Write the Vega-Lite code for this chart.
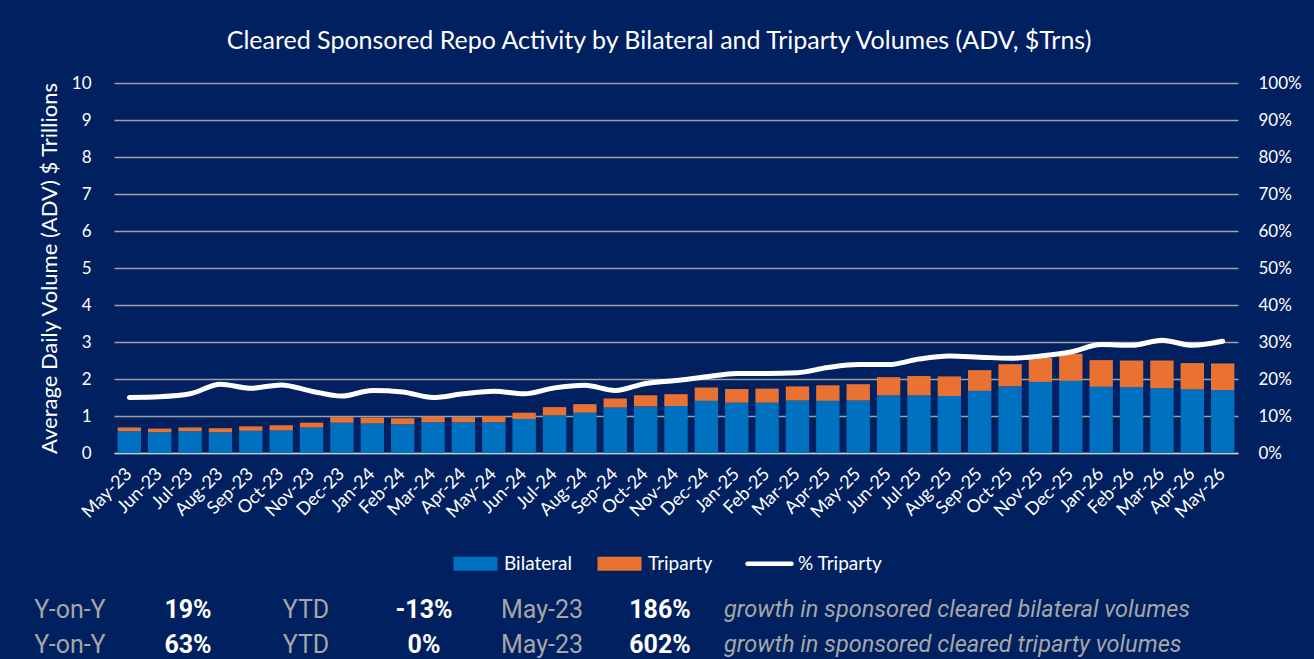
{
  "$schema": "https://vega.github.io/schema/vega-lite/v6.json",
  "background": "#002060",
  "padding": {"left": 34, "top": 29, "right": 40, "bottom": 30},
  "config": {
    "view": {"stroke": null},
    "font": "Lato",
    "axis": {"labelFont": "Lato", "titleFont": "Lato", "labelColor": "#FFFFFF", "titleColor": "#FFFFFF"}
  },
  "columns": 1,
  "align": "none",
  "spacing": 24,
  "resolve": {"scale": {"color": "independent"}, "legend": {"color": "independent"}},
  "concat": [
    {
      "width": 1124,
      "height": 370,
      "title": {"text": "Cleared Sponsored Repo Activity by Bilateral and Triparty Volumes (ADV, $Trns)", "color": "#FFFFFF", "fontSize": 25, "font": "Lato", "fontWeight": "normal", "offset": 20, "dx": -17},
      "data": {"values": [
        {"month": "2023-05-01", "Bilateral": 0.59, "Triparty": 0.10, "PctTriparty": 0.150},
        {"month": "2023-06-01", "Bilateral": 0.56, "Triparty": 0.10, "PctTriparty": 0.152},
        {"month": "2023-07-01", "Bilateral": 0.59, "Triparty": 0.10, "PctTriparty": 0.160},
        {"month": "2023-08-01", "Bilateral": 0.56, "Triparty": 0.11, "PctTriparty": 0.186},
        {"month": "2023-09-01", "Bilateral": 0.60, "Triparty": 0.12, "PctTriparty": 0.175},
        {"month": "2023-10-01", "Bilateral": 0.61, "Triparty": 0.14, "PctTriparty": 0.184},
        {"month": "2023-11-01", "Bilateral": 0.69, "Triparty": 0.13, "PctTriparty": 0.167},
        {"month": "2023-12-01", "Bilateral": 0.82, "Triparty": 0.15, "PctTriparty": 0.154},
        {"month": "2024-01-01", "Bilateral": 0.80, "Triparty": 0.16, "PctTriparty": 0.169},
        {"month": "2024-02-01", "Bilateral": 0.78, "Triparty": 0.16, "PctTriparty": 0.165},
        {"month": "2024-03-01", "Bilateral": 0.83, "Triparty": 0.15, "PctTriparty": 0.150},
        {"month": "2024-04-01", "Bilateral": 0.83, "Triparty": 0.14, "PctTriparty": 0.160},
        {"month": "2024-05-01", "Bilateral": 0.83, "Triparty": 0.17, "PctTriparty": 0.167},
        {"month": "2024-06-01", "Bilateral": 0.92, "Triparty": 0.17, "PctTriparty": 0.160},
        {"month": "2024-07-01", "Bilateral": 1.02, "Triparty": 0.22, "PctTriparty": 0.176},
        {"month": "2024-08-01", "Bilateral": 1.09, "Triparty": 0.23, "PctTriparty": 0.183},
        {"month": "2024-09-01", "Bilateral": 1.23, "Triparty": 0.24, "PctTriparty": 0.169},
        {"month": "2024-10-01", "Bilateral": 1.26, "Triparty": 0.30, "PctTriparty": 0.188},
        {"month": "2024-11-01", "Bilateral": 1.27, "Triparty": 0.32, "PctTriparty": 0.196},
        {"month": "2024-12-01", "Bilateral": 1.41, "Triparty": 0.36, "PctTriparty": 0.206},
        {"month": "2025-01-01", "Bilateral": 1.36, "Triparty": 0.37, "PctTriparty": 0.215},
        {"month": "2025-02-01", "Bilateral": 1.36, "Triparty": 0.38, "PctTriparty": 0.215},
        {"month": "2025-03-01", "Bilateral": 1.42, "Triparty": 0.38, "PctTriparty": 0.217},
        {"month": "2025-04-01", "Bilateral": 1.41, "Triparty": 0.42, "PctTriparty": 0.231},
        {"month": "2025-05-01", "Bilateral": 1.42, "Triparty": 0.44, "PctTriparty": 0.239},
        {"month": "2025-06-01", "Bilateral": 1.56, "Triparty": 0.49, "PctTriparty": 0.239},
        {"month": "2025-07-01", "Bilateral": 1.56, "Triparty": 0.52, "PctTriparty": 0.254},
        {"month": "2025-08-01", "Bilateral": 1.54, "Triparty": 0.53, "PctTriparty": 0.262},
        {"month": "2025-09-01", "Bilateral": 1.68, "Triparty": 0.56, "PctTriparty": 0.259},
        {"month": "2025-10-01", "Bilateral": 1.80, "Triparty": 0.60, "PctTriparty": 0.256},
        {"month": "2025-11-01", "Bilateral": 1.92, "Triparty": 0.65, "PctTriparty": 0.262},
        {"month": "2025-12-01", "Bilateral": 1.95, "Triparty": 0.73, "PctTriparty": 0.273},
        {"month": "2026-01-01", "Bilateral": 1.79, "Triparty": 0.72, "PctTriparty": 0.293},
        {"month": "2026-02-01", "Bilateral": 1.78, "Triparty": 0.72, "PctTriparty": 0.291},
        {"month": "2026-03-01", "Bilateral": 1.75, "Triparty": 0.75, "PctTriparty": 0.305},
        {"month": "2026-04-01", "Bilateral": 1.72, "Triparty": 0.71, "PctTriparty": 0.291},
        {"month": "2026-05-01", "Bilateral": 1.70, "Triparty": 0.72, "PctTriparty": 0.302}
      ]},
      "encoding": {
        "x": {
          "field": "month", "timeUnit": "utcyearmonth", "type": "ordinal",
          "scale": {"paddingInner": 0.23, "paddingOuter": 0.12},
          "axis": {"title": null, "format": "%b-%y", "labelAngle": -45, "labelOverlap": false, "labelFontSize": 18, "labelBaseline": "middle", "labelColor": "#FFFFFF", "labelPadding": 18, "ticks": false, "tickSize": 0, "domain": true, "domainColor": "#C8C8C8", "domainWidth": 1.5, "grid": false}
        }
      },
      "layer": [
        {
          "transform": [{"fold": ["Bilateral", "Triparty"], "as": ["series", "volume"]}],
          "mark": {"type": "bar"},
          "encoding": {
            "y": {
              "field": "volume", "type": "quantitative", "stack": "zero",
              "scale": {"domain": [0, 10]},
              "axis": {"title": "Average Daily Volume (ADV) $ Trillions", "values": [0, 1, 2, 3, 4, 5, 6, 7, 8, 9, 10], "titleFontSize": 22, "titleFontWeight": "normal", "titlePadding": 10, "labelFontSize": 17, "labelPadding": 23, "ticks": false, "tickSize": 0, "domain": false, "grid": true, "gridColor": "#A0A0A0", "gridWidth": 1.5}
            },
            "order": {"field": "series", "sort": "ascending"},
            "color": {
              "field": "series", "type": "nominal",
              "scale": {"domain": ["Bilateral", "Triparty", "% Triparty"], "range": ["#0070C0", "#E97132", "#FFFFFF"]},
              "legend": {
                "orient": "none", "legendX": 352, "legendY": 471, "direction": "horizontal", "title": null,
                "labelColor": "#FFFFFF", "labelFontSize": 19, "labelFont": "Lato", "labelOffset": 19,
                "symbolSize": 1936, "symbolType": "M-1,-0.32L1,-0.32L1,0.32L-1,0.32Z", "columnPadding": 25, "symbolStrokeWidth": 0,
                "encode": {"symbols": {"update": {
                  "shape": {"signal": "datum.value === '% Triparty' ? 'M-1,0L1,0' : 'M-1,-0.32L1,-0.32L1,0.32L-1,0.32Z'"},
                  "fill": {"signal": "datum.value === 'Bilateral' ? '#0070C0' : (datum.value === 'Triparty' ? '#E97132' : 'transparent')"},
                  "stroke": {"signal": "datum.value === '% Triparty' ? '#FFFFFF' : 'transparent'"},
                  "strokeWidth": {"signal": "datum.value === '% Triparty' ? 4.5 : 0"},
                  "strokeCap": {"value": "round"},
                  "opacity": {"value": 1}
                }}}
              }
            }
          }
        },
        {
          "mark": {"type": "line", "interpolate": "monotone", "strokeWidth": 5, "strokeCap": "round", "color": "#FFFFFF"},
          "encoding": {
            "y": {
              "field": "PctTriparty", "type": "quantitative",
              "scale": {"domain": [0, 1]},
              "axis": {"orient": "right", "format": ".0%", "values": [0, 0.1, 0.2, 0.3, 0.4, 0.5, 0.6, 0.7, 0.8, 0.9, 1], "title": null, "labelFontSize": 17, "labelPadding": 20, "ticks": false, "tickSize": 0, "domain": false, "grid": false}
            },
            "color": {"datum": "% Triparty", "type": "nominal"}
          }
        }
      ],
      "resolve": {"scale": {"y": "independent"}}
    },
    {
      "width": 760,
      "height": 35,
      "data": {"values": [
        {"row": "bilateral", "period": "Y-on-Y", "growth": "19%"},
        {"row": "bilateral", "period": "YTD", "growth": "-13%"},
        {"row": "bilateral", "period": "May-23", "growth": "186%"},
        {"row": "triparty", "period": "Y-on-Y", "growth": "63%"},
        {"row": "triparty", "period": "YTD", "growth": "0%"},
        {"row": "triparty", "period": "May-23", "growth": "602%"}
      ]},
      "encoding": {
        "x": {"field": "period", "type": "nominal", "scale": {"type": "point", "domain": ["Y-on-Y", "YTD", "May-23", "note"], "range": [-44, 664], "padding": 0}, "axis": null},
        "y": {"field": "row", "type": "nominal", "scale": {"type": "point", "domain": ["bilateral", "triparty"], "padding": 0}, "axis": null}
      },
      "layer": [
        {
          "mark": {"type": "text", "align": "center", "baseline": "middle", "font": "Roboto", "fontSize": 25, "color": "#A6A6A6"},
          "encoding": {"text": {"field": "period"}}
        },
        {
          "mark": {"type": "text", "align": "center", "baseline": "middle", "dx": 118, "font": "Roboto", "fontSize": 25, "fontWeight": "bold", "color": "#FFFFFF"},
          "encoding": {"text": {"field": "growth"}}
        },
        {
          "data": {"values": [
            {"row": "bilateral", "note": "growth in sponsored cleared bilateral volumes"},
            {"row": "triparty", "note": "growth in sponsored cleared triparty volumes"}
          ]},
          "mark": {"type": "text", "align": "left", "baseline": "middle", "dx": -54, "font": "Roboto", "fontSize": 23.5, "fontStyle": "italic", "color": "#A6A6A6"},
          "encoding": {"x": {"datum": "note", "type": "nominal"}, "text": {"field": "note"}}
        }
      ]
    }
  ]
}
